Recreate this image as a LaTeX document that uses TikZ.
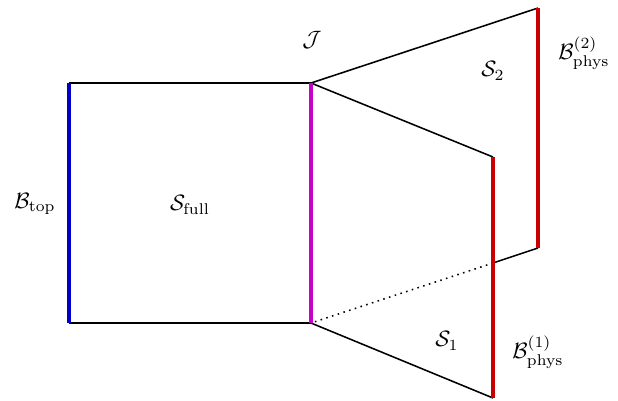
\documentclass[tikz,border=0pt]{standalone}
\usepackage{amsmath}
\definecolor{myblue}{RGB}{0,0,200}
\definecolor{mymag}{RGB}{200,0,200}
\definecolor{myred}{RGB}{200,0,0}
\tikzset{
  edge/.style={line width=0.7pt, black},
  bnd/.style={line width=1.4pt},
  lbl/.style={inner sep=0pt, font=\normalsize}
}
\begin{document}
\begin{tikzpicture}[x=0.45pt,y=-0.45pt]
\useasboundingbox (0,0) rectangle (618,400);
% corners
\coordinate (A) at (69,83);
\coordinate (B) at (311,83);
\coordinate (C) at (311,323);
\coordinate (D) at (69,323);
\coordinate (E) at (538,8);
\coordinate (F) at (538,248);
\coordinate (G) at (493,263);
\coordinate (H) at (493,157);
\coordinate (K) at (493,398);
% square
\draw[edge] (A) -- (B);
\draw[edge] (D) -- (C);
\draw[bnd, myblue] (A) -- (D);
% S2 panel
\draw[edge] (B) -- (E);
\draw[edge] (F) -- (G);
\draw[edge, dotted] (G) -- (C);
\draw[bnd, myred] (E) -- (F);
% S1 panel
\draw[edge] (B) -- (H);
\draw[edge] (C) -- (K);
\draw[bnd, myred] (H) -- (K);
\draw[bnd, mymag] (B) -- (C);
% labels
\node[lbl] (J) at (312,40) {$\mathcal{J}$};
\node[lbl] (S2) at (493,71) {$\mathcal{S}_2$};
\node[lbl] (Bp2) at (584,53) {$\mathcal{B}_{\text{phys}}^{(2)}$};
\node[lbl] (S1) at (447,341) {$\mathcal{S}_1$};
\node[lbl] (Bp1) at (538,352) {$\mathcal{B}_{\text{phys}}^{(1)}$};
\node[lbl] (Btop) at (35,204) {$\mathcal{B}_{\text{top}}$};
\node[lbl] (Sfull) at (190,205) {$\mathcal{S}_{\text{full}}$};
\end{tikzpicture}
\end{document}
